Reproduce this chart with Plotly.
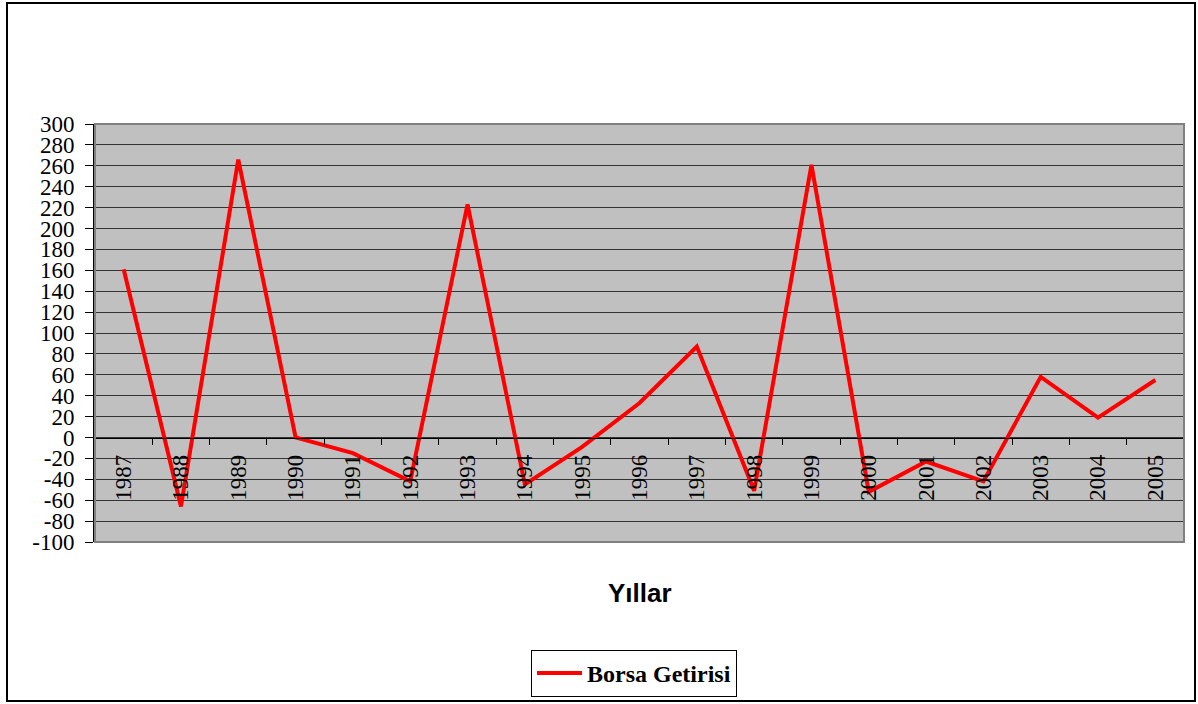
# Borsa Getirisi (stock market return) by year - Excel style line chart
import plotly.graph_objects as go

years = ['1987', '1988', '1989', '1990', '1991', '1992', '1993', '1994', '1995', '1996',
         '1997', '1998', '1999', '2000', '2001', '2002', '2003', '2004', '2005']
returns = [161, -66, 266, 0, -15, -42, 223, -45, -9, 33,
           87, -51, 261, -52, -23, -42, 58, 19, 55]

y_ticks = list(range(-100, 301, 20))

W, H = 1198, 704
L, R, T, B = 95, 14, 124, 162
pw, ph = W - L - R, H - T - B


def px_x(x):
    return (x - L) / pw


def px_y(y):
    return (H - B - y) / ph


serif = 'Liberation Serif, Times New Roman, serif'

fig = go.Figure()
fig.add_trace(go.Scatter(
    x=years, y=returns, mode='lines', name='Borsa Getirisi',
    line=dict(color='#FF0000', width=4)
))

fig.update_layout(
    width=W, height=H,
    margin=dict(l=L, r=R, t=T, b=B, autoexpand=False),
    paper_bgcolor='white',
    plot_bgcolor='#C0C0C0',
    font=dict(family=serif, size=21, color='black'),
    showlegend=True,
    legend=dict(
        x=px_x(634), y=px_y(650), xanchor='center', yanchor='top',
        bordercolor='black', borderwidth=1, bgcolor='white',
        font=dict(family=serif, size=24, color='black', weight='bold'),
        itemwidth=45,
    ),
)

fig.update_yaxes(
    range=[-100, 300], tickvals=y_ticks, ticktext=[str(v) for v in y_ticks],
    showgrid=True, gridcolor='#333333', gridwidth=1,
    zeroline=False, showline=True, linecolor='black', linewidth=2,
    ticks='outside', ticklen=8, tickcolor='black', tickwidth=1,
    tickfont=dict(family=serif, size=23, color='black'), ticklabelstandoff=6,
)

fig.update_xaxes(
    type='category', range=[-0.5, len(years) - 0.5],
    anchor='free', position=px_y(437.5),
    showgrid=False, zeroline=False,
    showline=True, linecolor='black', linewidth=1,
    ticks='outside', ticklen=6, tickcolor='black', tickson='boundaries',
    tickangle=-90, tickfont=dict(family=serif, size=23, color='black'),
    ticklabelstandoff=7,
)

# plot area border (gray) and outer chart border
fig.add_shape(type='rect', xref='paper', yref='paper', x0=0, x1=1, y0=0, y1=1,
              line=dict(color='#808080', width=2), layer='above')
fig.add_shape(type='rect', xref='paper', yref='paper',
              x0=px_x(7), x1=px_x(1195), y0=px_y(701), y1=px_y(3),
              line=dict(color='black', width=2))

fig.add_annotation(text='Yıllar', xref='paper', yref='paper',
                   x=px_x(640), y=px_y(593), xanchor='center', yanchor='middle',
                   showarrow=False,
                   font=dict(family='Liberation Sans, Arial, sans-serif', size=26,
                             color='black', weight='bold'))

fig.write_html('out.html', config={'displayModeBar': False},
               post_script="document.body.style.margin='0';")
